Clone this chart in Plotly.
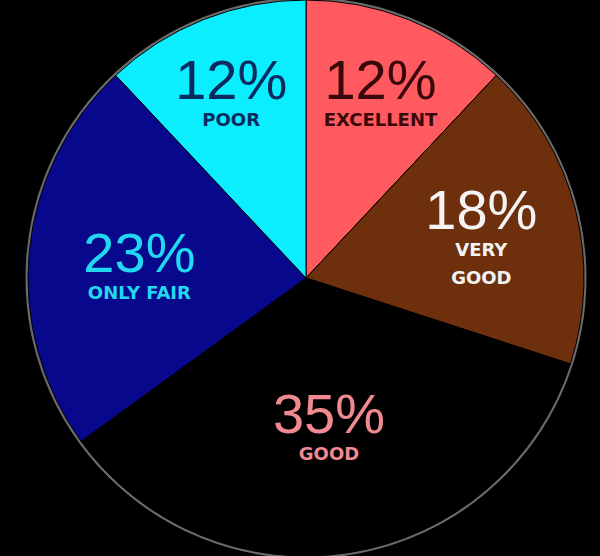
import plotly.graph_objects as go

labels = ["Excellent", "Very good", "Good", "Only fair", "Poor"]
display = ["EXCELLENT", "VERY<br>GOOD", "GOOD", "ONLY FAIR", "POOR"]
values = [12, 18, 35, 23, 12]
slice_colors = ["#ff5a5f", "#6e2f0c", "#000000", "#08088c", "#0aeeff"]
text_colors = ["#3a0808", "#f4f4f4", "#f08a90", "#22d8f0", "#0a2a60"]

W, H = 600, 556
dom_x = [0.02, 1.0]
dom_y = [0.0, 1.0]

fig = go.Figure(go.Pie(
    labels=labels,
    values=values,
    text=display,
    sort=False,
    direction="clockwise",
    rotation=0,
    marker=dict(colors=slice_colors, line=dict(color="#000000", width=1)),
    texttemplate=("<span style='font-size:56px;font-family:Liberation Sans'>%{value}%</span>"
                  "<br><span style='font-size:18px;font-family:DejaVu Sans'><b>%{text}</b></span>"),
    textposition="inside",
    insidetextorientation="horizontal",
    textfont=dict(family="Liberation Sans", size=21, color=text_colors),
    hoverinfo="label+percent",
    showlegend=False,
    domain=dict(x=dom_x, y=dom_y),
))

# subtle rim around the pie (decorative glow)
cx = W * (dom_x[0] + dom_x[1]) / 2
cy = H * (dom_y[0] + dom_y[1]) / 2
r = min(W * (dom_x[1] - dom_x[0]), H * (dom_y[1] - dom_y[0])) / 2 + 1
fig.add_shape(type="circle", xref="paper", yref="paper",
              x0=(cx - r) / W, x1=(cx + r) / W, y0=(cy - r) / H, y1=(cy + r) / H,
              line=dict(color="#6a6a6a", width=3), layer="below")

fig.update_layout(
    width=W, height=H,
    margin=dict(l=0, r=0, t=0, b=0),
    paper_bgcolor="#000000",
    plot_bgcolor="#000000",
)

fig.write_html("out.html")
